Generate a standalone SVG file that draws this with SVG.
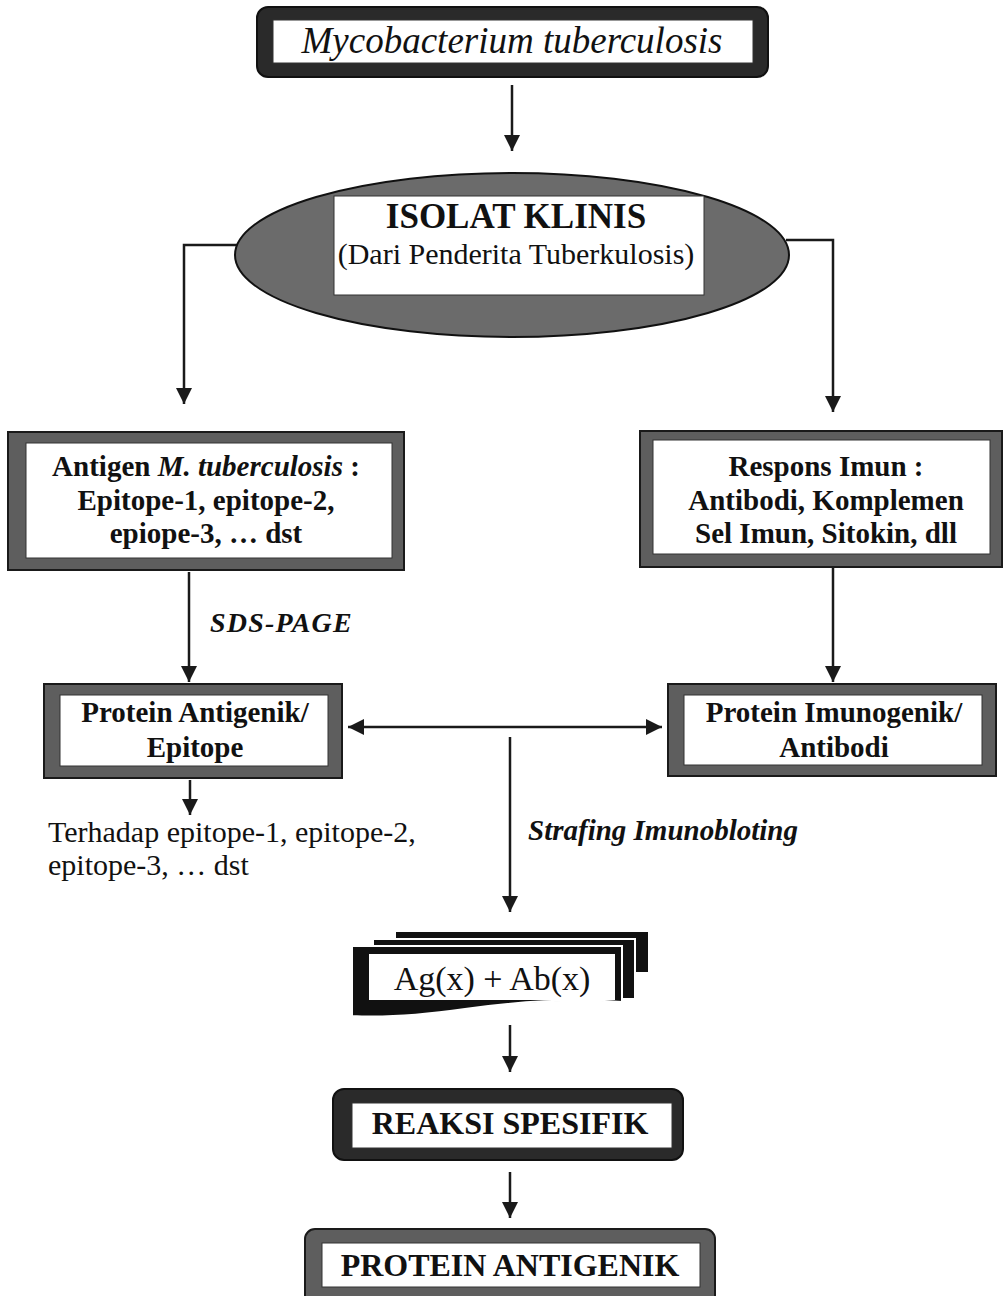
<svg xmlns="http://www.w3.org/2000/svg" width="1004" height="1296" viewBox="0 0 1004 1296">
<style>
.frame{fill:#5e5e5e;stroke:#1a1a1a;stroke-width:2}
.darkframe{fill:#2a2a2a;stroke:#111;stroke-width:2}
.inner{fill:#fff;stroke:#333;stroke-width:1}
.t{font-family:"Liberation Serif","Times New Roman",serif;fill:#111}
.b{font-weight:bold}
.i{font-style:italic}
.c{text-anchor:middle}
.ln{fill:none;stroke:#1a1a1a;stroke-width:2.5}
</style>
<defs>
<marker id="ah" markerUnits="userSpaceOnUse" markerWidth="16" markerHeight="18" refX="16" refY="8" orient="auto-start-reverse" viewBox="0 0 16 16">
<path d="M0,0 L16,8 L0,16 Z" fill="#1a1a1a"/>
</marker>
</defs>

<g id="connectors">
<line class="ln" x1="512" y1="85" x2="512" y2="151" marker-end="url(#ah)"/>
<polyline class="ln" points="238,245 184,245 184,404" marker-end="url(#ah)"/>
<polyline class="ln" points="786,240 833,240 833,412" marker-end="url(#ah)"/>
<line class="ln" x1="189" y1="572" x2="189" y2="682" marker-end="url(#ah)"/>
<line class="ln" x1="833" y1="568" x2="833" y2="682" marker-end="url(#ah)"/>
<line class="ln" x1="348" y1="727" x2="662" y2="727" marker-start="url(#ah)" marker-end="url(#ah)"/>
<line class="ln" x1="510" y1="737" x2="510" y2="912" marker-end="url(#ah)"/>
<line class="ln" x1="190" y1="780" x2="190" y2="815" marker-end="url(#ah)"/>
<line class="ln" x1="510" y1="1025" x2="510" y2="1072" marker-end="url(#ah)"/>
<line class="ln" x1="510" y1="1172" x2="510" y2="1218" marker-end="url(#ah)"/>
<text class="t b i" x="210" y="632" font-size="28" letter-spacing="1.2">SDS-PAGE</text>
<text class="t b i" x="528" y="840" font-size="29">Strafing Imunobloting</text>
</g>

<g id="node-mycobacterium">
<rect class="darkframe" x="257" y="7" width="511" height="70" rx="11"/>
<rect class="inner" x="273" y="20" width="480" height="43"/>
<text class="t i c" x="512" y="53" font-size="37">Mycobacterium tuberculosis</text>
</g>

<g id="node-isolat">
<ellipse cx="512" cy="255" rx="277" ry="82" fill="#6b6b6b" stroke="#111" stroke-width="2"/>
<rect class="inner" x="334" y="196" width="370" height="99"/>
<text class="t b c" x="516" y="228" font-size="35">ISOLAT KLINIS</text>
<text class="t c" x="516" y="264" font-size="30">(Dari Penderita Tuberkulosis)</text>
</g>

<g id="node-antigen">
<rect class="frame" x="8" y="432" width="396" height="138"/>
<rect class="inner" x="26" y="443" width="366" height="115"/>
<text class="t b c" x="206" y="476" font-size="29">Antigen <tspan font-style="italic">M. tuberculosis</tspan> :</text>
<text class="t b c" x="206" y="510" font-size="29">Epitope-1, epitope-2,</text>
<text class="t b c" x="206" y="543" font-size="29">epiope-3, … dst</text>
</g>

<g id="node-respons">
<rect class="frame" x="640" y="431" width="362" height="136"/>
<rect class="inner" x="653" y="440" width="337" height="114"/>
<text class="t b c" x="826" y="476" font-size="29">Respons Imun :</text>
<text class="t b c" x="826" y="510" font-size="29">Antibodi, Komplemen</text>
<text class="t b c" x="826" y="543" font-size="29">Sel Imun, Sitokin, dll</text>
</g>

<g id="node-protein-antigenik">
<rect class="frame" x="44" y="684" width="298" height="94"/>
<rect class="inner" x="60" y="695" width="268" height="71"/>
<text class="t b c" x="195" y="722" font-size="29">Protein Antigenik/</text>
<text class="t b c" x="195" y="757" font-size="29">Epitope</text>
</g>

<g id="node-protein-imunogenik">
<rect class="frame" x="668" y="684" width="328" height="92"/>
<rect class="inner" x="684" y="695" width="298" height="70"/>
<text class="t b c" x="834" y="722" font-size="29">Protein Imunogenik/</text>
<text class="t b c" x="834" y="757" font-size="29">Antibodi</text>
</g>

<g id="terhadap">
<text class="t" x="48" y="842" font-size="30">Terhadap epitope-1, epitope-2,</text>
<text class="t" x="48" y="875" font-size="30">epitope-3, … dst</text>
</g>

<g id="node-agab">
<rect x="395" y="931" width="254" height="42" fill="#111" stroke="#fff" stroke-width="2"/>
<rect x="373" y="939" width="262" height="60" fill="#111" stroke="#fff" stroke-width="2"/>
<path d="M352,946 H622 V1002 C560,998 500,1004 465,1009 C430,1014 390,1018 352,1016 Z" fill="#111" stroke="#fff" stroke-width="2"/>
<rect x="369" y="954" width="246" height="46" fill="#fff"/>
<text class="t c" x="492" y="990" font-size="34">Ag(x) + Ab(x)</text>
</g>

<g id="node-reaksi">
<rect class="darkframe" x="333" y="1089" width="350" height="71" rx="11"/>
<rect class="inner" x="352" y="1103" width="320" height="45"/>
<text class="t b c" x="510" y="1134" font-size="32">REAKSI SPESIFIK</text>
</g>

<g id="node-protein-final">
<rect class="frame" x="305" y="1229" width="410" height="80" rx="10"/>
<rect class="inner" x="322" y="1243" width="378" height="44"/>
<text class="t b c" x="510" y="1276" font-size="32">PROTEIN ANTIGENIK</text>
</g>
</svg>
